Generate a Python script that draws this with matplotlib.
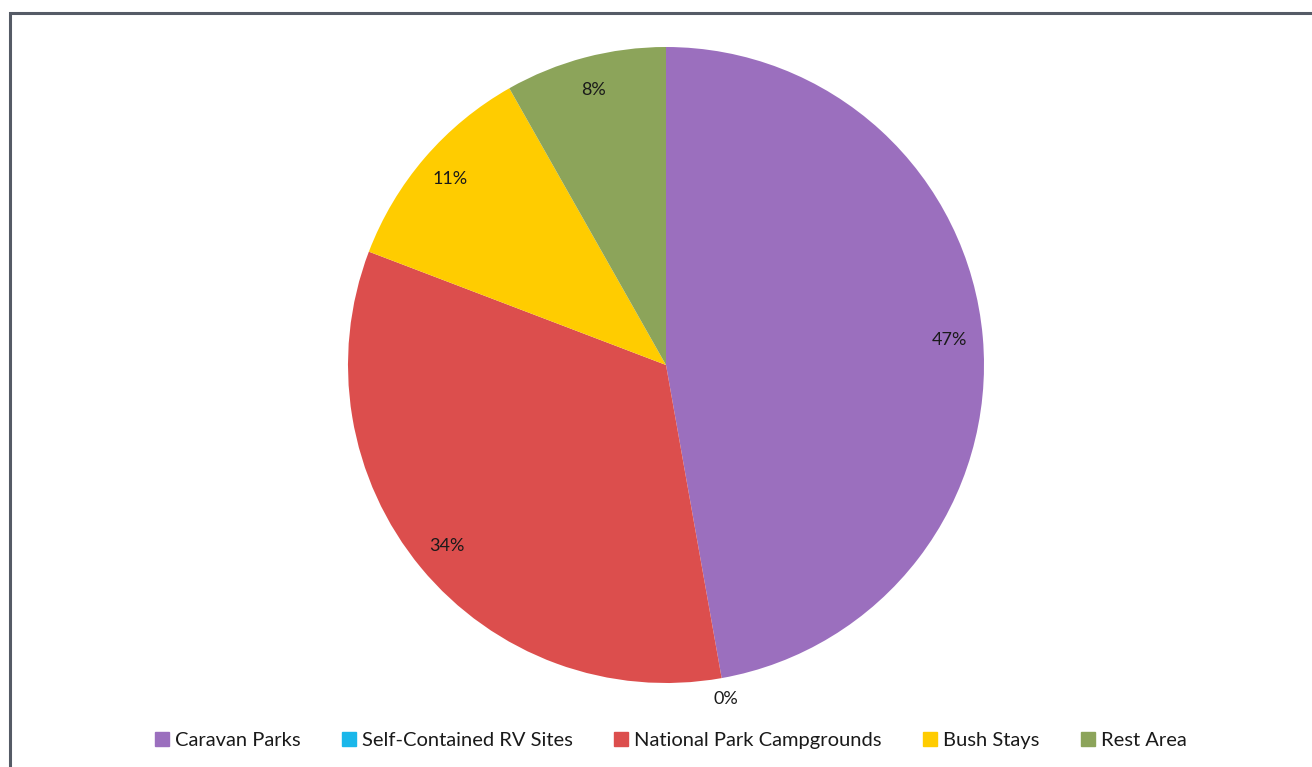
import matplotlib
matplotlib.use("Agg")
import matplotlib.pyplot as plt
from matplotlib.patches import Rectangle
from matplotlib.lines import Line2D
import numpy as np

categories = ["Caravan Parks", "Self-Contained RV Sites", "National Park Campgrounds", "Bush Stays", "Rest Area"]
shares = [47.2, 0.0, 33.6, 11.0, 8.2]
colors = ["#9B6FBE", "#1AB7EA", "#DC4E4D", "#FFCC00", "#8CA45A"]

plt.rcParams['font.family'] = ['Lato', 'DejaVu Sans']

W, H = 1312, 767
fig = plt.figure(figsize=(W / 100, H / 100), dpi=100)
fig.patch.set_facecolor("white")

cx, cy, r = 666, 365, 318
ax = fig.add_axes([(cx - r) / W, (H - cy - r) / H, 2 * r / W, 2 * r / H])
wedges, texts, autotexts = ax.pie(
    shares, colors=colors, startangle=90, counterclock=False, radius=1,
    autopct=lambda p: f"{p:.0f}%", pctdistance=0.895,
    wedgeprops=dict(linewidth=0), textprops=dict(fontsize=13, color="#1a1a1a"))
ax.set_xlim(-1, 1)
ax.set_ylim(-1, 1)
ax.set_aspect("equal")
ax.axis("off")

# move tiny-slice label outside
for w, t, s in zip(wedges, autotexts, shares):
    if s < 2:
        ang = np.deg2rad((w.theta1 + w.theta2) / 2)
        t.set_position((1.067 * np.cos(ang), 1.067 * np.sin(ang)))

handles = [Line2D([0], [0], marker="s", linestyle="none", markersize=9.5,
                  markerfacecolor=c, markeredgecolor=c) for c in colors]
fig.legend(handles, categories, loc="center", bbox_to_anchor=(671 / W, (H - 740) / H),
           ncol=5, frameon=False, fontsize=14.5, handlelength=0.6, handletextpad=0.35,
           columnspacing=2.1, labelcolor="#1a1a1a")

# chart frame (left and top edges visible)
fig.add_artist(Rectangle((10 / W, -0.2), 1.2, (H - 13) / H + 0.2, transform=fig.transFigure,
                         fill=False, edgecolor="#555B66", linewidth=2.2))

fig.savefig("out.png", dpi=100)
